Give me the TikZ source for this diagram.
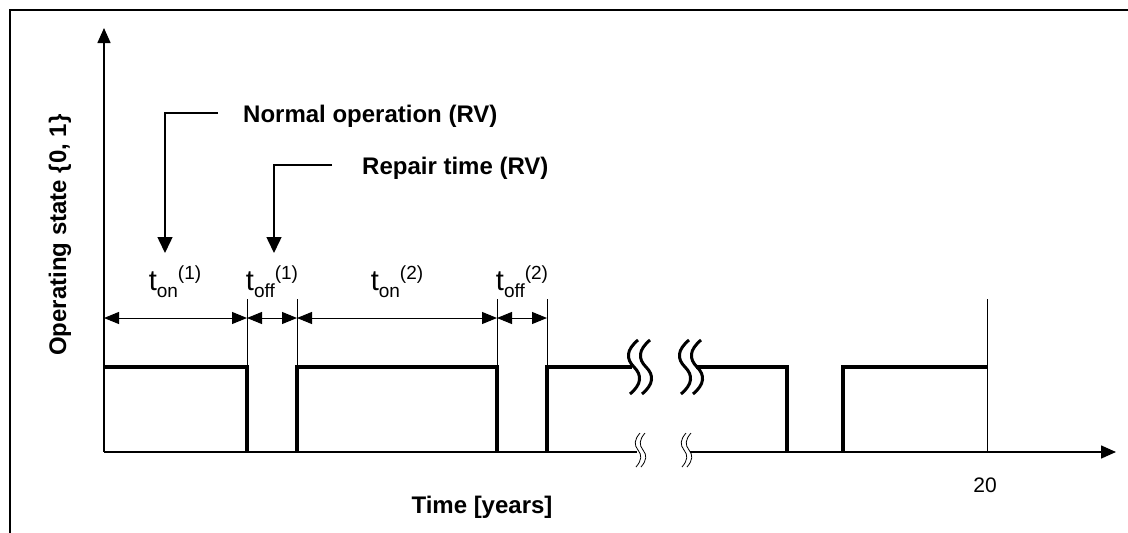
\documentclass[tikz,border=0pt]{standalone}
\usepackage{fontspec}
\setmainfont{Liberation Sans}
\usetikzlibrary{arrows.meta}
\newcommand{\tlab}[2]{{\fontsize{29}{29}\selectfont t}{\fontsize{19}{19}\selectfont\raisebox{-7pt}{#1}\raisebox{11pt}{(#2)}}}
\begin{document}
\begin{tikzpicture}[x=1pt,y=-1pt,
  sig/.style={line width=4pt,line join=miter},
  axis/.style={line width=1.5pt,-{Triangle[length=15pt,width=13pt]}},
  thin/.style={line width=1pt},
  dimarr/.style={line width=1pt,{Triangle[length=15pt,width=12pt]}-{Triangle[length=15pt,width=12pt]}},
  callout/.style={line width=1.5pt,-{Triangle[length=16pt,width=15pt]}},
  lbl/.style={font=\fontsize{24}{24}\selectfont\bfseries,inner sep=0pt},
  tl/.style={inner sep=0pt,anchor=base},
  bigsq/.pic={\draw[line width=3pt] (4,-27) .. controls (-8,-17) and (-8,-8) .. (0,0) .. controls (8,8) and (8,17) .. (-4,27);},
  smallsq/.pic={\draw[line width=0.8pt] (2,-17) .. controls (-4,-10) and (-4,-5) .. (0,0) .. controls (4,5) and (4,10) .. (-2,17);}
]
\useasboundingbox[fill=white] (0,0) rectangle (1128,533);
% frame
\draw[line width=2pt] (10,533) -- (10,10) -- (1128,10);
% axes
\coordinate (O) at (104,452);
\coordinate (ytop) at (104,28);
\coordinate (xb1) at (637,452);
\coordinate (xb2) at (690,452);
\coordinate (xend) at (1116,452);
\draw[axis] (O) -- (ytop);
\draw[line width=1.5pt] (O) -- (xb1);
\draw[axis] (xb2) -- (xend);
% signal
\draw[sig] (104,367) -- (247,367) -- (247,452);
\draw[sig] (297,452) -- (297,367) -- (497,367) -- (497,452);
\draw[sig] (547,452) -- (547,367) -- (632,367);
\draw[sig] (696,367) -- (787,367) -- (787,452);
\draw[sig] (843,452) -- (843,367) -- (987,367);
% breaks
\pic at (634,367) {bigsq};
\pic at (646,367) {bigsq};
\pic at (685,367) {bigsq};
\pic at (697,367) {bigsq};
\pic at (638,450) {smallsq};
\pic at (643,450) {smallsq};
\pic at (684,450) {smallsq};
\pic at (689,450) {smallsq};
% ticks
\coordinate (d0) at (104,318);
\coordinate (d1) at (247,318);
\coordinate (d2) at (297,318);
\coordinate (d3) at (497,318);
\coordinate (d4) at (547,318);
\draw[thin] (247,299) -- (247,367);
\draw[thin] (297,299) -- (297,367);
\draw[thin] (497,299) -- (497,367);
\draw[thin] (547,299) -- (547,367);
\draw[thin] (987,299) -- (987,452);
\draw[dimarr] (d0) -- (d1);
\draw[dimarr] (d1) -- (d2);
\draw[dimarr] (d2) -- (d3);
\draw[dimarr] (d3) -- (d4);
% interval labels
\node[tl] (lon1) at (175,290) {\tlab{on}{1}};
\node[tl] (loff1) at (272,290) {\tlab{off}{1}};
\node[tl] (lon2) at (397,290) {\tlab{on}{2}};
\node[tl] (loff2) at (522,290) {\tlab{off}{2}};
% callouts
\node[lbl,anchor=base west] (norm) at (243,122) {Normal operation (RV)};
\node[lbl,anchor=base west] (rep) at (362,174) {Repair time (RV)};
\coordinate (n0) at (218,113);
\coordinate (n1) at (165,113);
\coordinate (n2) at (165,253);
\coordinate (r0) at (332,165);
\coordinate (r1) at (274,165);
\coordinate (r2) at (274,253);
\draw[callout] (n0) -- (n1) -- (n2);
\draw[callout] (r0) -- (r1) -- (r2);
% axis labels
\node[lbl,rotate=90] (ylab) at (60,235) {Operating state \{0, 1\}};
\node[lbl,anchor=base] (xlab) at (482,513) {Time [years]};
\node[inner sep=0pt,anchor=base,font=\fontsize{21}{21}\selectfont] (twenty) at (985,492) {20};
\end{tikzpicture}
\end{document}
